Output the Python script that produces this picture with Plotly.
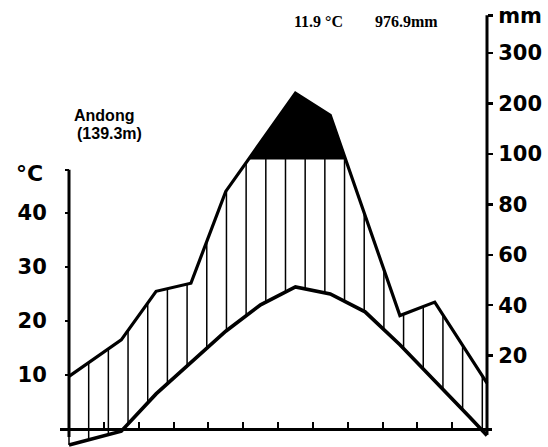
import numpy as np
import plotly.graph_objects as go

# ---------------- data ----------------
months = ["Jan", "Feb", "Mar", "Apr", "May", "Jun",
          "Jul", "Aug", "Sep", "Oct", "Nov", "Dec"]
temperature_c = [-2.1, -0.4, 6.5, 12.2, 18.1, 23.0, 26.3, 25.0, 21.7, 15.6, 9.0, 2.2]
precipitation_mm = [24, 33, 51, 54, 88, 132, 222, 181, 79, 42, 47, 27]

station_name = "Andong"
station_elev = "(139.3m)"
annual_temp_text = "11.9 °C"
annual_precip_text = "976.9mm"

temp_tick_values = [10, 20, 30, 40]
precip_tick_values = [20, 40, 60, 80, 100, 200, 300]
precip_tick_labels = ["20", "40", "60", "80", "100", "200", "300"]


# Walter-Lieth scaling: 10 °C = 20 mm, above 100 mm compressed (10 mm per unit)
def precip_scale(p):
    p = np.asarray(p, float)
    return np.where(p <= 100, p / 2.0, 50 + (p - 100) / 10.0)


def extend_to_edges(v):
    v = np.asarray(v, float)
    left = v[0] - (v[1] - v[0]) / 2.0
    right = v[-1] + (v[-1] - v[-2]) / 2.0
    return np.concatenate([[left], v, [right]])


n = len(months)
x_mid = np.arange(n) + 0.5
x_full = np.concatenate([[0.0], x_mid, [float(n)]])
t_full = extend_to_edges(temperature_c)
p_full = extend_to_edges(precip_scale(precipitation_mm))

# ---------------- geometry ----------------
W, H = 548, 447
ML, MR, MT, MB = 60, 56, 4, 0
AXL_PX, AXR_PX = 69, 487
ppm = (AXR_PX - AXL_PX) / n
xmin = -(AXL_PX - ML) / ppm
xmax = xmin + (W - ML - MR) / ppm

ZERO_PY, PPU = 429.0, 5.4          # temperature scale
ymax = (ZERO_PY - MT) / PPU
ymin = (ZERO_PY - (H - MB)) / PPU

R0_PY, RPPU = 406.1, 5.043         # mm scale as printed on the right
y2max = (R0_PY - MT) / RPPU
y2min = (R0_PY - (H - MB)) / RPPU
MM_TOP = 77.5                       # top of the mm axis (scale units)


def paper_xy(px, py):
    return (px - ML) / (W - ML - MR), (H - MB - py) / (H - MT - MB)


# ---------------- hatch lines (humid period) ----------------
HATCH_STEP = 0.565
hx, hy = [], []
for xh in np.arange(0, n + 1e-9, HATCH_STEP):
    lo = np.interp(xh, x_full, t_full)
    hi = min(np.interp(xh, x_full, p_full), 50.0)
    if hi > lo:
        hx += [xh, xh, None]
        hy += [lo, hi, None]

# ---------------- super-humid black area (>100 mm) ----------------
xd = np.linspace(0, n, 4801)
pd_ = np.interp(xd, x_full, p_full)
wet = pd_ > 50.0
bx = np.concatenate([xd[wet], xd[wet][::-1]])
by = np.concatenate([pd_[wet], np.full(wet.sum(), 50.0)])

fig = go.Figure()
fig.add_trace(go.Scatter(x=hx, y=hy, mode="lines",
                         line=dict(color="black", width=1.5),
                         hoverinfo="skip", showlegend=False))
fig.add_trace(go.Scatter(x=bx, y=by, mode="lines", fill="toself",
                         fillcolor="black",
                         line=dict(color="black", width=1),
                         hoverinfo="skip", showlegend=False))
fig.add_trace(go.Scatter(x=x_full, y=p_full, mode="lines",
                         line=dict(color="black", width=3.2),
                         name="Precipitation", showlegend=False))
fig.add_trace(go.Scatter(x=x_full, y=t_full, mode="lines",
                         line=dict(color="black", width=3.6),
                         name="Temperature", showlegend=False))
fig.add_trace(go.Scatter(x=[None], y=[None], yaxis="y2",
                         hoverinfo="skip", showlegend=False))

tick_font = dict(family="DejaVu Sans", size=21, color="black", weight="bold")

fig.update_layout(
    width=W, height=H,
    margin=dict(l=ML, r=MR, t=MT, b=MB, pad=0, autoexpand=False),
    paper_bgcolor="white", plot_bgcolor="rgba(0,0,0,0)",
    showlegend=False,
    xaxis=dict(range=[xmin, xmax], anchor="free", automargin=False,
               position=(0 - ymin) / (ymax - ymin),
               showline=True, linecolor="black", linewidth=3,
               ticks="inside", ticklen=6, tickwidth=2, tickcolor="black",
               tickvals=list(range(1, n)), showticklabels=False,
               showgrid=False, zeroline=False, fixedrange=True),
    yaxis=dict(range=[ymin, ymax], anchor="free", side="left", automargin=False,
               position=(0 - xmin) / (xmax - xmin),
               showline=False, showgrid=False, zeroline=False,
               ticks="outside", ticklen=4, tickwidth=2.5, tickcolor="black",
               tickvals=temp_tick_values + [48],
               ticktext=[str(v) for v in temp_tick_values] + [""],
               tickfont=tick_font, ticklabelstandoff=14, fixedrange=True),
    yaxis2=dict(range=[y2min, y2max], overlaying="y", anchor="free",
                side="right", position=(n - xmin) / (xmax - xmin),
                automargin=False,
                showline=False, showgrid=False, zeroline=False,
                ticks="outside", ticklen=5, tickwidth=2.5, tickcolor="black",
                tickvals=list(precip_scale(precip_tick_values)) + [MM_TOP],
                ticktext=precip_tick_labels + ["mm"],
                tickfont=tick_font, ticklabelstandoff=1, fixedrange=True),
)

# axis lines
fig.add_shape(type="line", xref="x", yref="y", x0=0, x1=0, y0=-1.5, y1=48,
              line=dict(color="black", width=3))
fig.add_shape(type="line", xref="x", yref="y2", x0=n, x1=n, y0=-5.7, y1=MM_TOP,
              line=dict(color="black", width=3))

# texts
ax_, ay_ = paper_xy(72, 115)
fig.add_annotation(x=ax_, y=ay_, xref="paper", yref="paper", text=station_name,
                   showarrow=False, xanchor="left", yanchor="middle",
                   font=dict(family="Liberation Sans", size=16, color="black", weight="bold"))
ax_, ay_ = paper_xy(75, 133)
fig.add_annotation(x=ax_, y=ay_, xref="paper", yref="paper", text=station_elev,
                   showarrow=False, xanchor="left", yanchor="middle",
                   font=dict(family="Liberation Sans", size=16, color="black", weight="bold"))
ax_, ay_ = paper_xy(14, 173)
fig.add_annotation(x=ax_, y=ay_, xref="paper", yref="paper", text="°C",
                   showarrow=False, xanchor="left", yanchor="middle",
                   font=dict(family="DejaVu Sans", size=22, color="black", weight="bold"))
ax_, ay_ = paper_xy(292, 22)
fig.add_annotation(x=ax_, y=ay_, xref="paper", yref="paper", text=annual_temp_text,
                   showarrow=False, xanchor="left", yanchor="middle",
                   font=dict(family="Liberation Serif", size=16, color="black", weight="bold"))
ax_, ay_ = paper_xy(373, 22)
fig.add_annotation(x=ax_, y=ay_, xref="paper", yref="paper", text=annual_precip_text,
                   showarrow=False, xanchor="left", yanchor="middle",
                   font=dict(family="Liberation Serif", size=16, color="black", weight="bold"))

fig.write_html("out.html",
               config={"displayModeBar": False, "staticPlot": True},
               post_script="document.body.style.margin='0';document.body.style.overflow='hidden';")
